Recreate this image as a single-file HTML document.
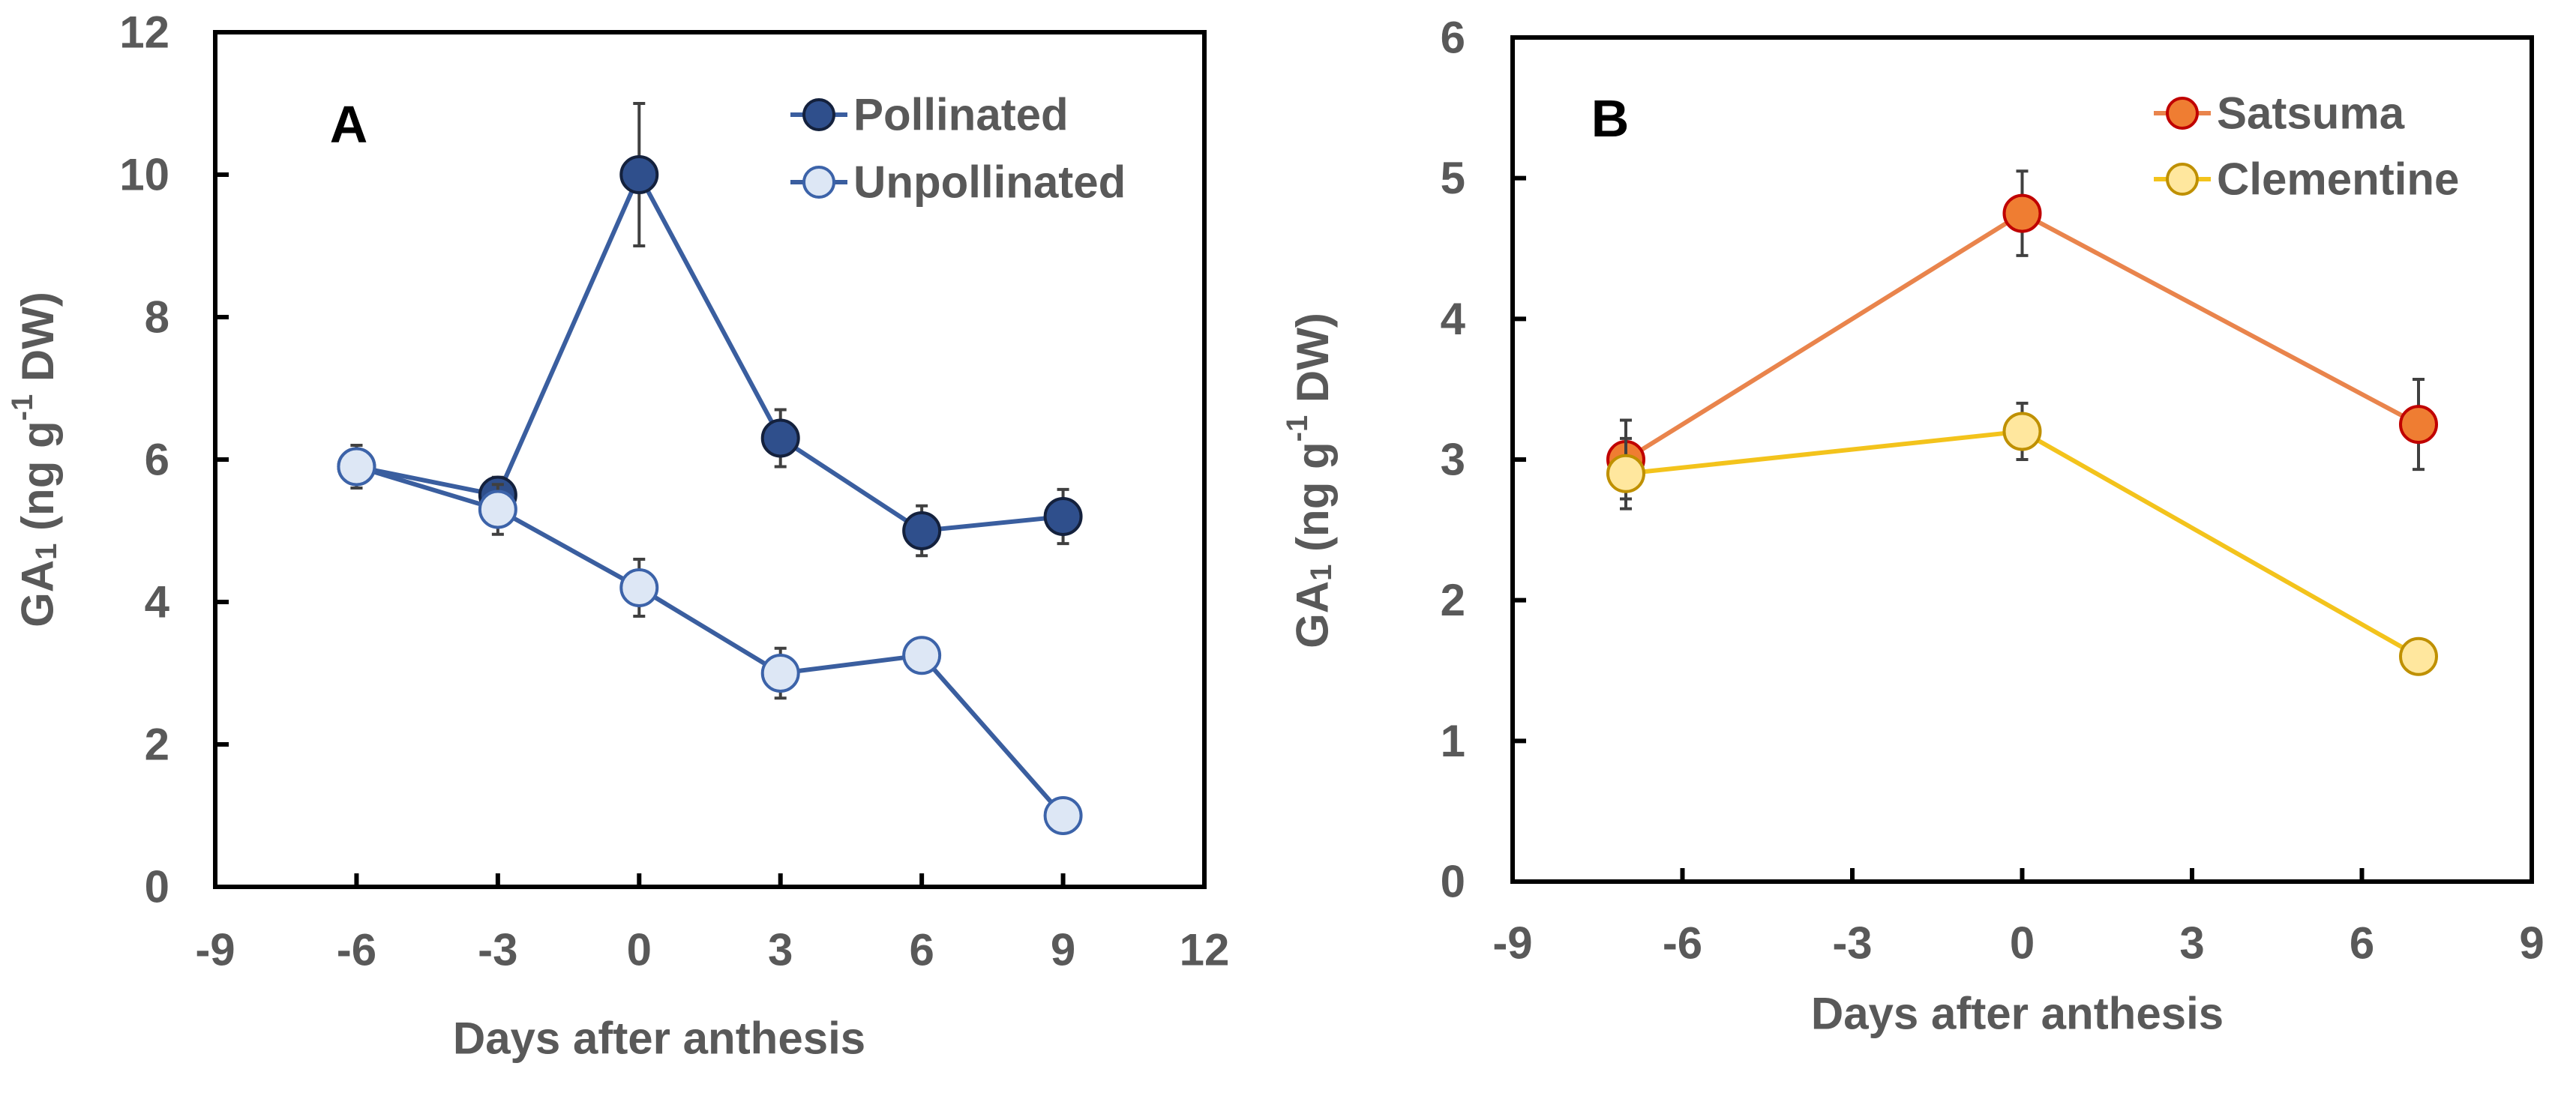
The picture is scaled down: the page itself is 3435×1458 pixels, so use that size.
<!DOCTYPE html>
<html><head><meta charset="utf-8"><style>
html,body{margin:0;padding:0;background:#fff}
svg{display:block}
text{font-family:"Liberation Sans",Arial,sans-serif;font-weight:bold}
</style></head><body>
<svg id="fig" width="3435" height="1458" viewBox="0 0 3435 1458"></svg>
<script>
// Panel A data
const aDays = [-6, -3, 0, 3, 6, 9];
const aPollinated = [5.9, 5.5, 10.0, 6.3, 5.0, 5.2];
const aPollinatedErr = [0.3, 0.25, 1.0, 0.4, 0.35, 0.38];
const aUnpollinated = [5.9, 5.3, 4.2, 3.0, 3.25, 1.0];
const aUnpollinatedErr = [0.3, 0.35, 0.4, 0.35, 0.05, 0.05];
const aXTicks = [-9, -6, -3, 0, 3, 6, 9, 12];
const aYTicks = [0, 2, 4, 6, 8, 10, 12];
// Panel B data
const bDays = [-7, 0, 7];
const bSatsuma = [3.0, 4.75, 3.25];
const bSatsumaErr = [0.28, 0.3, 0.32];
const bClementine = [2.9, 3.2, 1.6];
const bClementineErr = [0.25, 0.2, 0.1];
const bXTicks = [-9, -6, -3, 0, 3, 6, 9];
const bYTicks = [0, 1, 2, 3, 4, 5, 6];

const NS = "http://www.w3.org/2000/svg";
const svg = document.getElementById('fig');
function mk(tag, attrs, parent) {
  const e = document.createElementNS(NS, tag);
  for (const k in attrs) e.setAttribute(k, attrs[k]);
  (parent || svg).appendChild(e);
  return e;
}
function txt(s, attrs, parent) { const t = mk('text', attrs, parent); t.textContent = s; return t; }

function panel(cfg) {
  const g = mk('g', {});
  
  
  const sx = v => cfg.x0 + (v - cfg.xmin) / (cfg.xmax - cfg.xmin) * (cfg.x1 - cfg.x0);
  const sy = v => cfg.y0 - (v - cfg.ymin) / (cfg.ymax - cfg.ymin) * (cfg.y0 - cfg.y1);
  const fr = mk('rect', {x: cfg.x0, y: cfg.y1, width: cfg.x1 - cfg.x0, height: cfg.y0 - cfg.y1, fill: 'none', stroke: '#000', 'stroke-width': 6}, g);
  
  
  cfg.xTicks.forEach(v => {
    const x = sx(v);
    if (v !== cfg.xmin && v !== cfg.xmax) {
      const l = mk('line', {x1: x, x2: x, y1: cfg.y0, y2: cfg.y0 - 18, stroke: '#000', 'stroke-width': 6}, g);
      
      
    }
    const t = txt(String(v), {x: x, y: cfg.xLabY, 'font-size': 60, fill: '#595959', 'text-anchor': 'middle', 'dominant-baseline': 'central'}, g);
    
    
  });
  cfg.yTicks.forEach(v => {
    const y = sy(v);
    if (v !== cfg.ymin && v !== cfg.ymax) {
      const l = mk('line', {x1: cfg.x0, x2: cfg.x0 + 18, y1: y, y2: y, stroke: '#000', 'stroke-width': 6}, g);
      
      
    }
    const t = txt(String(v), {x: cfg.yLabX, y: y, 'font-size': 60, fill: '#595959', 'text-anchor': 'end', 'dominant-baseline': 'central'}, g);
    
    
  });
  const xt = txt('Days after anthesis', {x: cfg.xTitleX, y: cfg.xTitleY, 'font-size': 60, fill: '#595959', 'text-anchor': 'middle', 'dominant-baseline': 'central'}, g);
  
  
  const yt = mk('text', {x: 0, y: 0, 'font-size': 60, fill: '#595959', 'text-anchor': 'middle', 'dominant-baseline': 'central', transform: 'translate(' + cfg.yTitleX + ',' + cfg.yTitleY + ') rotate(-90)'}, g);
  
  
  yt.innerHTML = 'GA<tspan font-size="40" dy="12">1</tspan><tspan dy="-12"> (ng g</tspan><tspan font-size="40" dy="-20">-1</tspan><tspan dy="20"> DW)</tspan>';
  const pl = txt(cfg.label, {x: cfg.labX, y: cfg.labY, 'font-size': 70, fill: '#000', 'text-anchor': 'middle'}, g);
  
  
  cfg.series.forEach(s => {
    const sg = mk('g', {}, g);
    
    
    const pts = s.vals.map((v, i) => sx(s.xs[i]) + ',' + sy(v)).join(' ');
    const pl2 = mk('polyline', {points: pts, fill: 'none', stroke: s.line, 'stroke-width': 6}, sg);
    
    
    s.vals.forEach((v, i) => {
      const x = sx(s.xs[i]), e = s.err[i];
      const eb = mk('path', {d: 'M' + x + ',' + sy(v + e) + 'V' + sy(v - e) + 'M' + (x - 8) + ',' + sy(v + e) + 'h16M' + (x - 8) + ',' + sy(v - e) + 'h16', stroke: '#404040', 'stroke-width': 4, fill: 'none'}, sg);
      
      
    });
    s.vals.forEach((v, i) => {
      const c = mk('circle', {cx: sx(s.xs[i]), cy: sy(v), r: 24, fill: s.fill, stroke: s.stroke, 'stroke-width': 4}, sg);
      
      
    });
  });
  cfg.series.forEach((s, i) => {
    const lg = mk('g', {}, g);
    
    
    const y = cfg.legY + i * cfg.legDY;
    mk('line', {x1: cfg.legX - 38, x2: cfg.legX + 38, y1: y, y2: y, stroke: s.line, 'stroke-width': 6}, lg);
    mk('circle', {cx: cfg.legX, cy: y, r: 20, fill: s.fill, stroke: s.stroke, 'stroke-width': 4}, lg);
    txt(s.label, {x: cfg.legX + 46, y: y, 'font-size': 60, fill: '#595959', 'dominant-baseline': 'central'}, lg);
  });
}

panel({name: 'panel-a', x0: 287, x1: 1606, y0: 1183, y1: 43, xmin: -9, xmax: 12, ymin: 0, ymax: 12,
  xTicks: aXTicks, yTicks: aYTicks, xLabY: 1267, yLabX: 226, xTitleX: 879, xTitleY: 1385, yTitleX: 50, yTitleY: 613,
  label: 'A', labX: 465, labY: 190, legX: 1092, legY: 153, legDY: 90,
  series: [
    {name: 'pollinated', label: 'Pollinated', xs: aDays, vals: aPollinated, err: aPollinatedErr, line: '#3a5e9f', fill: '#2f4f8c', stroke: '#14213d'},
    {name: 'unpollinated', label: 'Unpollinated', xs: aDays, vals: aUnpollinated, err: aUnpollinatedErr, line: '#3a5e9f', fill: '#dde7f5', stroke: '#3c63a9'}
  ]});
panel({name: 'panel-b', x0: 2017, x1: 3376, y0: 1176, y1: 50, xmin: -9, xmax: 9, ymin: 0, ymax: 6,
  xTicks: bXTicks, yTicks: bYTicks, xLabY: 1258, yLabX: 1954, xTitleX: 2690, xTitleY: 1352, yTitleX: 1750, yTitleY: 641,
  label: 'B', labX: 2147, labY: 182, legX: 2910, legY: 151, legDY: 88,
  series: [
    {name: 'satsuma', label: 'Satsuma', xs: bDays, vals: bSatsuma, err: bSatsumaErr, line: '#e9844c', fill: '#ef7d32', stroke: '#c00000'},
    {name: 'clementine', label: 'Clementine', xs: bDays, vals: bClementine, err: bClementineErr, line: '#f3c31c', fill: '#ffe79e', stroke: '#bf9000'}
  ]});
</script>
</body></html>
